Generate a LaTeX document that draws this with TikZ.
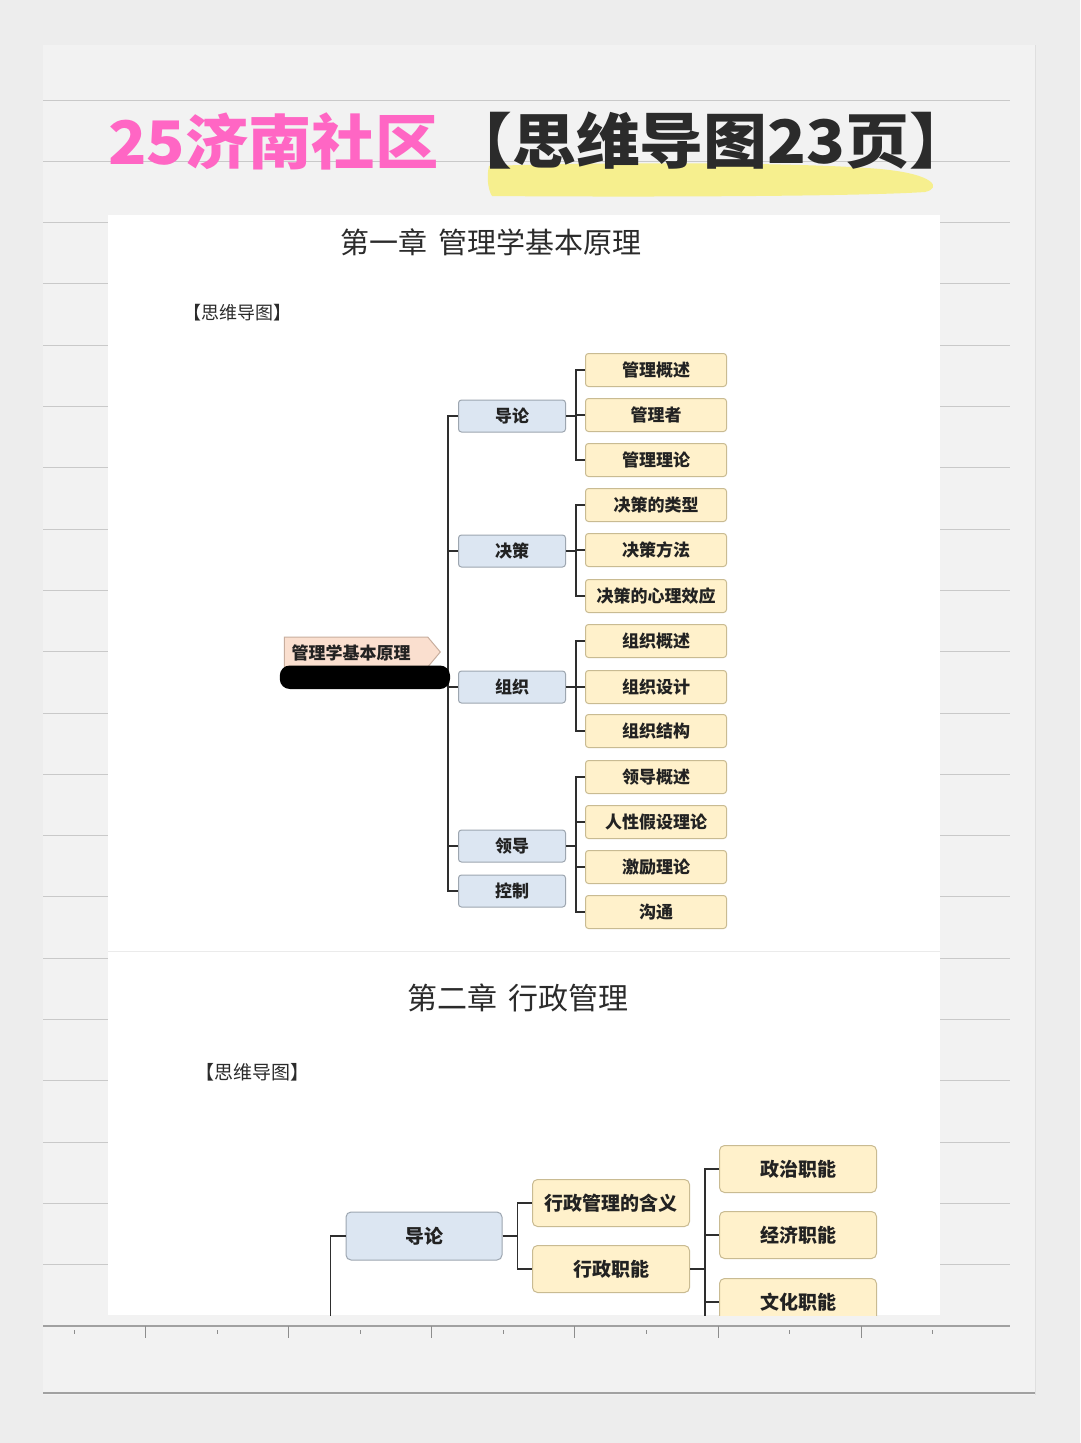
\documentclass[tikz,border=0pt]{standalone}
\usepackage{fontspec}
\newfontfamily\cjk{Noto Sans CJK SC}
\usetikzlibrary{shapes.symbols}
\definecolor{bgc}{HTML}{EDEDED}
\definecolor{paperc}{HTML}{F2F2F2}
\definecolor{rulec}{HTML}{C9C9C9}
\definecolor{pinkc}{HTML}{FF66C4}
\definecolor{titledark}{HTML}{2B2B2B}
\definecolor{hlc}{HTML}{F6EF8E}
\definecolor{bluefill}{HTML}{DCE6F2}
\definecolor{blueborder}{HTML}{9DA6B0}
\definecolor{yelfill}{HTML}{FFF1CB}
\definecolor{yelborder}{HTML}{C9BB92}
\definecolor{rootfill}{HTML}{FADFCF}
\definecolor{rootborder}{HTML}{C8AE9E}
\definecolor{linedark}{HTML}{2E2E2E}
\definecolor{textdark}{HTML}{222222}
\tikzset{
  lvone/.style={draw=blueborder, fill=bluefill, rounded corners=3pt, line width=1pt,
    minimum width=107pt, minimum height=32pt, inner sep=0pt, text=textdark,
    font=\cjk\bfseries\fontsize{17}{17}\selectfont},
  lvtwo/.style={draw=yelborder, fill=yelfill, rounded corners=3pt, line width=1pt,
    minimum width=141pt, minimum height=33pt, inner sep=0pt, text=textdark,
    font=\cjk\bfseries\fontsize{17}{17}\selectfont},
  lvonebig/.style={lvone, minimum width=156pt, minimum height=48pt, rounded corners=5pt,
    font=\cjk\bfseries\fontsize{19}{19}\selectfont},
  lvtwobig/.style={lvtwo, minimum width=157pt, minimum height=47pt, rounded corners=5pt,
    font=\cjk\bfseries\fontsize{19}{19}\selectfont},
  conn/.style={draw=linedark, line width=1.8pt},
  chap/.style={text=titledark, font=\cjk\fontsize{29}{29}\selectfont},
  mmlabel/.style={text=titledark, font=\cjk\fontsize{18}{18}\selectfont},
}
\begin{document}
\begin{tikzpicture}[x=1pt,y=-1pt]
\useasboundingbox (0,0) rectangle (1080,1443);
\fill[bgc] (0,0) rectangle (1080,1443);
% paper
\fill[paperc] (43,45) rectangle (1035,1395);
\draw[rulec!60, line width=0.8pt] (1035,45) -- (1035,1395);
\foreach \k in {0,...,19} {
  \draw[rulec, line width=1pt] (43,{100+61.3*\k}) -- (1010,{100+61.3*\k});
}
% ruler line with ticks
\draw[rulec!80!black, line width=1.2pt] (43,1326) -- (1010,1326);
\foreach \t in {145,288,431,574,718,861} {\draw[rulec!70!black, line width=0.8pt] (\t,1326) -- (\t,1338);}
\foreach \t in {74,217,360,503,646,789,932} {\draw[rulec!70!black, line width=0.8pt] (\t,1330) -- (\t,1334);}
\draw[rulec!80!black, line width=1.4pt] (43,1393) -- (1035,1393);

% title highlight
\fill[hlc] (489,166) .. controls (600,162) and (800,162) .. (880,169)
  .. controls (935,174) and (942,188) .. (925,192)
  .. controls (850,197) and (600,197) .. (492,196)
  .. controls (487,188) and (487,174) .. (489,166) -- cycle;
\node[anchor=west, inner sep=0pt, text=pinkc, xscale=1.055, font=\cjk\bfseries\fontsize{60}{60}\selectfont] (t1) at (108,141) {25济南社区};
\node[anchor=west, inner sep=0pt, text=titledark, xscale=1.065, font=\cjk\bfseries\fontsize{60}{60}\selectfont] (t2) at (448,141) {【思维导图23页】};

% white panel
\begin{scope}
\clip (108,215) rectangle (940,1315);
\fill[white] (108,215) rectangle (940,1315);
\draw[black!8, line width=1pt] (108,951) -- (940,951);

% chapter 1
\node[chap] (c1) at (491,242) {第一章\hspace{0.4em}管理学基本原理};
\node[mmlabel, anchor=west] (m1) at (180,313) {【思维导图】};

\node[lvone] (daolun) at (512,416) {导论};
\node[lvone] (juece) at (512,551) {决策};
\node[lvone] (zuzhi) at (512,687) {组织};
\node[lvone] (lingdao) at (512,846) {领导};
\node[lvone] (kongzhi) at (512,891) {控制};

\node[lvtwo] (a1) at (656,370) {管理概述};
\node[lvtwo] (a2) at (656,415) {管理者};
\node[lvtwo] (a3) at (656,460) {管理理论};
\node[lvtwo] (b1) at (656,505) {决策的类型};
\node[lvtwo] (b2) at (656,550) {决策方法};
\node[lvtwo] (b3) at (656,596) {决策的心理效应};
\node[lvtwo] (c1a) at (656,641) {组织概述};
\node[lvtwo] (c2a) at (656,687) {组织设计};
\node[lvtwo] (c3a) at (656,731) {组织结构};
\node[lvtwo] (d1) at (656,777) {领导概述};
\node[lvtwo] (d2) at (656,822) {人性假设理论};
\node[lvtwo] (d3) at (656,867) {激励理论};
\node[lvtwo] (d4) at (656,912) {沟通};

% trunk
\draw[conn] (daolun.west) -- ++(-10,0) |- (kongzhi.west);
\draw[conn] (juece.west) -- ++(-10,0);
\draw[conn] (zuzhi.west) -- ++(-10,0);
\draw[conn] (lingdao.west) -- ++(-10,0);

\foreach \c in {a1,a2,a3} {\draw[conn] (daolun.east) -- ++(10,0) |- (\c.west);}
\foreach \c in {b1,b2,b3} {\draw[conn] (juece.east) -- ++(10,0) |- (\c.west);}
\foreach \c in {c1a,c2a,c3a} {\draw[conn] (zuzhi.east) -- ++(10,0) |- (\c.west);}
\foreach \c in {d1,d2,d3,d4} {\draw[conn] (lingdao.east) -- ++(10,0) |- (\c.west);}

% root
\node[signal, signal to=east, signal pointer angle=100, draw=rootborder, fill=rootfill,
  line width=1pt, minimum width=156pt, minimum height=30pt, inner sep=0pt, text=textdark,
  font=\cjk\bfseries\fontsize{17}{17}\selectfont, text depth=0pt] (root) at (356,652) {\hspace{-10pt}管理学基本原理};
\fill[black, rounded corners=10pt] (root.south west) ++(-4,-2) rectangle (450,689);

% chapter 2
\node[chap, font=\cjk\fontsize{30}{30}\selectfont] (c2) at (518,998) {第二章\hspace{0.4em}行政管理};
\node[mmlabel, anchor=west, font=\cjk\fontsize{19}{19}\selectfont] (m2) at (192,1072) {【思维导图】};

\node[lvonebig] (dl2) at (424,1236) {导论};
\node[lvtwobig] (hy) at (611,1203) {行政管理的含义};
\node[lvtwobig] (zn) at (611,1269) {行政职能};
\node[lvtwobig] (zz) at (798,1169) {政治职能};
\node[lvtwobig] (jj) at (798,1235) {经济职能};
\node[lvtwobig] (wh) at (798,1302) {文化职能};
\coordinate (trunk2) at (331,1330);
\coordinate (zntail) at (705,1330);
\draw[conn] (dl2.west) -- ++(-15,0) |- (trunk2);
\foreach \c in {hy,zn} {\draw[conn] (dl2.east) -- ++(15,0) |- (\c.west);}
\foreach \c in {zz,jj,wh} {\draw[conn] (zn.east) -- ++(15,0) |- (\c.west);}
\draw[conn] (zn.east) -- ++(15,0) |- (zntail);
\end{scope}
\end{tikzpicture}
\end{document}
